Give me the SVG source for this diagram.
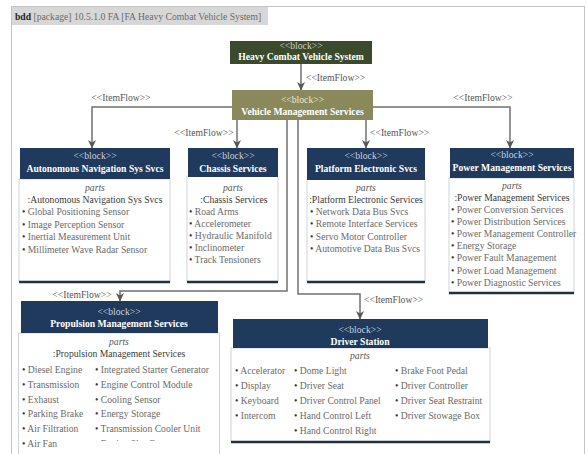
<svg xmlns="http://www.w3.org/2000/svg" width="587" height="454" viewBox="0 0 587 454">
<style>
text { font-family: "Liberation Serif", "Times New Roman", serif; font-size: 10.5px; fill: #6a6a6a; transform-box: fill-box; transform-origin: 0% 50%; transform: scaleX(0.92); }
text.c { text-anchor: middle; transform-origin: 50% 50%; }
text.st { fill: #c9d3df; }
text.nm { fill: #ffffff; font-weight: bold; }
text.pt { fill: #555; font-style: italic; }
text.cn { fill: #3a3a3a; }
text.lb { fill: #555; }
tspan.b { fill: #333; }
.hd { fill: #1f3a5c; }
.cp { fill: #ffffff; stroke: #cfd3d8; stroke-width: 1; }
.bl { stroke: #22303f; stroke-width: 2.5; }
.conn path { fill: none; stroke: #707070; stroke-width: 1.5; }
</style>
<defs>
<marker id="ah" markerUnits="userSpaceOnUse" markerWidth="9" markerHeight="9" refX="8" refY="4.5" orient="auto">
<path d="M0,0.5 L8.5,4.5 L0,8.5 L2.5,4.5 z" fill="#555"/>
</marker>
<clipPath id="clipP"><rect x="0" y="0" width="587" height="441"/></clipPath>
</defs>

<g id="frame">
<rect x="11.5" y="6.5" width="573" height="470" fill="#ffffff" stroke="#c4c4c4" stroke-width="1"/>
<rect x="12" y="7" width="256" height="18" fill="#d7d7d7"/>
<text x="15" y="20" fill="#333"><tspan font-weight="bold" fill="#222">bdd</tspan> [package] 10.5.1.0 FA [FA Heavy Combat Vehicle System]</text>
</g>

<g id="connectors" class="conn">
<path d="M301,64 V90" marker-end="url(#ah)"/>
<path d="M232,107 H92 V148" marker-end="url(#ah)"/>
<path d="M373,107 H510 V148" marker-end="url(#ah)"/>
<path d="M237,120 V148" marker-end="url(#ah)"/>
<path d="M366,120 V148" marker-end="url(#ah)"/>
<path d="M287,120 V291 H120 V301" marker-end="url(#ah)"/>
<path d="M298,120 V294 H360 V319" marker-end="url(#ah)"/>
<text class="lb" x="306" y="81">&lt;&lt;ItemFlow&gt;&gt;</text>
<text class="lb c" x="121" y="101">&lt;&lt;ItemFlow&gt;&gt;</text>
<text class="lb c" x="483" y="101">&lt;&lt;ItemFlow&gt;&gt;</text>
<text class="lb c" x="204" y="136">&lt;&lt;ItemFlow&gt;&gt;</text>
<text class="lb" x="370" y="136">&lt;&lt;ItemFlow&gt;&gt;</text>
<text class="lb c" x="82" y="298.5">&lt;&lt;ItemFlow&gt;&gt;</text>
<text class="lb" x="364" y="303.5">&lt;&lt;ItemFlow&gt;&gt;</text>
</g>

<g id="heavy-combat-vehicle-system">
<rect x="230" y="41" width="142" height="23" fill="#3b4a2c"/>
<text class="c" x="301" y="49" style="fill:#cdd5bf">&lt;&lt;block&gt;&gt;</text>
<text class="c nm" x="301" y="60.5">Heavy Combat Vehicle System</text>
</g>

<g id="vehicle-management-services">
<rect x="232" y="90" width="141" height="30" fill="#8a895b"/>
<text class="c" x="302.5" y="103.5" style="fill:#ecebd2">&lt;&lt;block&gt;&gt;</text>
<text class="c nm" x="302.5" y="115.5">Vehicle Management Services</text>
</g>

<g id="autonomous-navigation">
<rect class="cp" x="19" y="179" width="151" height="103"/>
<line class="bl" x1="19" y1="282" x2="170" y2="282"/>
<rect class="hd" x="20" y="148" width="150" height="31"/>
<text class="c st" x="95" y="159.5">&lt;&lt;block&gt;&gt;</text>
<text class="c nm" x="95" y="172">Autonomous Navigation Sys Svcs</text>
<text class="c pt" x="95" y="191.5">parts</text>
<text class="c cn" x="95" y="203.5">:Autonomous Navigation Sys Svcs</text>
<text x="22" y="215.5"><tspan class="b">•</tspan> Global Positioning Sensor</text>
<text x="22" y="228"><tspan class="b">•</tspan> Image Perception Sensor</text>
<text x="22" y="240.5"><tspan class="b">•</tspan> Inertial Measurement Unit</text>
<text x="22" y="253"><tspan class="b">•</tspan> Millimeter Wave Radar Sensor</text>
</g>

<g id="chassis-services">
<rect class="cp" x="187" y="176" width="91" height="106"/>
<line class="bl" x1="187" y1="282" x2="278" y2="282"/>
<rect class="hd" x="188" y="148" width="90" height="29"/>
<text class="c st" x="233" y="159.5">&lt;&lt;block&gt;&gt;</text>
<text class="c nm" x="233" y="172">Chassis Services</text>
<text class="c pt" x="233" y="191.5">parts</text>
<text class="c cn" x="234" y="203.5">:Chassis Services</text>
<text x="189" y="215.5"><tspan class="b">•</tspan> Road Arms</text>
<text x="189" y="227.5"><tspan class="b">•</tspan> Accelerometer</text>
<text x="189" y="239.5"><tspan class="b">•</tspan> Hydraulic Manifold</text>
<text x="189" y="251.5"><tspan class="b">•</tspan> Inclinometer</text>
<text x="189" y="263.5"><tspan class="b">•</tspan> Track Tensioners</text>
</g>

<g id="platform-electronic">
<rect class="cp" x="307" y="179" width="118" height="103"/>
<line class="bl" x1="307" y1="282" x2="425" y2="282"/>
<rect class="hd" x="307" y="148" width="118" height="32"/>
<text class="c st" x="366" y="159.5">&lt;&lt;block&gt;&gt;</text>
<text class="c nm" x="366" y="172">Platform Electronic Svcs</text>
<text class="c pt" x="366" y="191.5">parts</text>
<text class="c cn" x="366" y="203.5">:Platform Electronic Services</text>
<text x="310" y="215.5"><tspan class="b">•</tspan> Network Data Bus Svcs</text>
<text x="310" y="227.5"><tspan class="b">•</tspan> Remote Interface Services</text>
<text x="310" y="240"><tspan class="b">•</tspan> Servo Motor Controller</text>
<text x="310" y="252.5"><tspan class="b">•</tspan> Automotive Data Bus Svcs</text>
</g>

<g id="power-management">
<rect class="cp" x="449" y="178" width="125" height="115"/>
<line class="bl" x1="449" y1="293" x2="574" y2="293"/>
<rect class="hd" x="450" y="148" width="124" height="30"/>
<text class="c st" x="512" y="158.5">&lt;&lt;block&gt;&gt;</text>
<text class="c nm" x="512" y="171">Power Management Services</text>
<text class="c pt" x="512" y="189.5">parts</text>
<text class="c cn" x="512" y="201.5">:Power Management Services</text>
<text x="451" y="213.5"><tspan class="b">•</tspan> Power Conversion Services</text>
<text x="451" y="225.5"><tspan class="b">•</tspan> Power Distribution Services</text>
<text x="451" y="237.5"><tspan class="b">•</tspan> Power Management Controller</text>
<text x="451" y="249.5"><tspan class="b">•</tspan> Energy Storage</text>
<text x="451" y="261.5"><tspan class="b">•</tspan> Power Fault Management</text>
<text x="451" y="274"><tspan class="b">•</tspan> Power Load Management</text>
<text x="451" y="286.5"><tspan class="b">•</tspan> Power Diagnostic Services</text>
</g>

<g id="propulsion-management">
<rect class="cp" x="18.5" y="333" width="201" height="130"/>
<rect class="hd" x="21" y="301" width="197" height="32"/>
<text class="c st" x="119" y="315.5">&lt;&lt;block&gt;&gt;</text>
<text class="c nm" x="119" y="327.5">Propulsion Management Services</text>
<text class="c pt" x="119" y="345.5">parts</text>
<text class="c cn" x="119" y="357.5">:Propulsion Management Services</text>
<text x="22" y="373"><tspan class="b">•</tspan> Diesel Engine</text>
<text x="22" y="387.8"><tspan class="b">•</tspan> Transmission</text>
<text x="22" y="402.6"><tspan class="b">•</tspan> Exhaust</text>
<text x="22" y="417.4"><tspan class="b">•</tspan> Parking Brake</text>
<text x="22" y="432.2"><tspan class="b">•</tspan> Air Filtration</text>
<text x="22" y="447"><tspan class="b">•</tspan> Air Fan</text>
<text x="95" y="373"><tspan class="b">•</tspan> Integrated Starter Generator</text>
<text x="95" y="387.8"><tspan class="b">•</tspan> Engine Control Module</text>
<text x="95" y="402.6"><tspan class="b">•</tspan> Cooling Sensor</text>
<text x="95" y="417.4"><tspan class="b">•</tspan> Energy Storage</text>
<text x="95" y="432.2"><tspan class="b">•</tspan> Transmission Cooler Unit</text>
<g clip-path="url(#clipP)"><text x="95" y="447"><tspan class="b">•</tspan> Engine Slot Connector</text></g>
</g>

<g id="driver-station">
<rect class="cp" x="231" y="348" width="259" height="94"/>
<line class="bl" x1="231" y1="442" x2="490" y2="442"/>
<rect class="hd" x="233" y="319" width="255" height="29"/>
<text class="c st" x="360" y="333.5">&lt;&lt;block&gt;&gt;</text>
<text class="c nm" x="360" y="345.5">Driver Station</text>
<text class="c pt" x="360" y="359.5">parts</text>
<text x="235" y="374.5"><tspan class="b">•</tspan> Accelerator</text>
<text x="235" y="389.3"><tspan class="b">•</tspan> Display</text>
<text x="235" y="404.1"><tspan class="b">•</tspan> Keyboard</text>
<text x="235" y="418.9"><tspan class="b">•</tspan> Intercom</text>
<text x="294" y="374.5"><tspan class="b">•</tspan> Dome Light</text>
<text x="294" y="389.3"><tspan class="b">•</tspan> Driver Seat</text>
<text x="294" y="404.1"><tspan class="b">•</tspan> Driver Control Panel</text>
<text x="294" y="418.9"><tspan class="b">•</tspan> Hand Control Left</text>
<text x="294" y="433.7"><tspan class="b">•</tspan> Hand Control Right</text>
<text x="395" y="374.5"><tspan class="b">•</tspan> Brake Foot Pedal</text>
<text x="395" y="389.3"><tspan class="b">•</tspan> Driver Controller</text>
<text x="395" y="404.1"><tspan class="b">•</tspan> Driver Seat Restraint</text>
<text x="395" y="418.9"><tspan class="b">•</tspan> Driver Stowage Box</text>
</g>
</svg>
